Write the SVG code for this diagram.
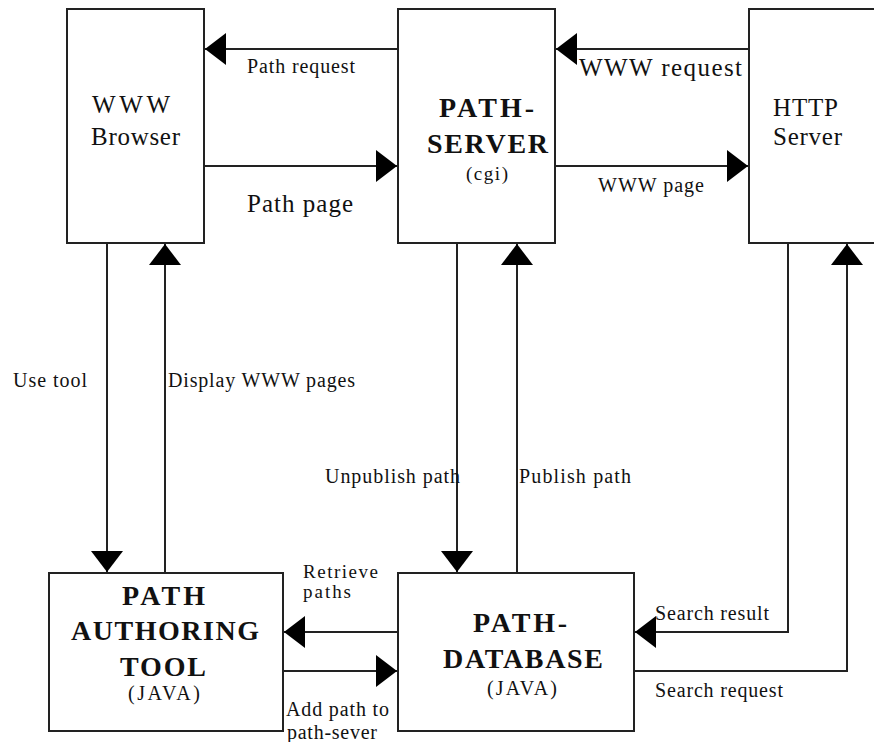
<svg xmlns="http://www.w3.org/2000/svg" width="874" height="742" viewBox="0 0 874 742">
<style>
  .box { fill: #fff; stroke: #222; stroke-width: 2; }
  .ln { fill: none; stroke: #222; stroke-width: 2; marker-end: url(#ah); }
  text { font-family: "Liberation Serif", "Times New Roman", serif; fill: #111; }
  .lbl { font-size: 20px; }
  .nd { font-size: 25px; }
  .b { font-size: 28px; font-weight: bold; }
  .sm { font-size: 19px; }
  .tight { font-size: 19px; }
</style>
<defs>
  <marker id="ah" markerUnits="userSpaceOnUse" viewBox="0 -16 21 32" markerWidth="21" markerHeight="32" refX="21" refY="0" orient="auto">
    <path d="M0,-16 L21,0 L0,16 z" fill="#000"/>
  </marker>
</defs>
<rect width="874" height="742" fill="#fff"/>

<g id="browser">
  <rect class="box" x="67" y="9" width="137" height="234"/>
  <text class="nd" x="92" y="113" textLength="78">WWW</text>
  <text class="nd" x="91" y="145" textLength="89">Browser</text>
</g>
<g id="path-server">
  <rect class="box" x="398" y="9" width="157" height="234"/>
  <text class="b" x="439" y="117" textLength="95">PATH-</text>
  <text class="b" x="427" y="153" textLength="121">SERVER</text>
  <text class="sm" x="466" y="180" textLength="42">(cgi)</text>
</g>
<g id="http-server">
  <rect class="box" x="749" y="9" width="140" height="234"/>
  <text class="nd" x="773" y="116" textLength="65">HTTP</text>
  <text class="nd" x="773" y="145" textLength="69">Server</text>
</g>
<g id="authoring-tool">
  <rect class="box" x="49" y="573" width="234" height="158"/>
  <text class="b" x="122" y="605" textLength="83">PATH</text>
  <text class="b" x="71" y="640" textLength="188">AUTHORING</text>
  <text class="b" x="120" y="676" textLength="86">TOOL</text>
  <text class="lbl" x="128" y="700" textLength="72">(JAVA)</text>
</g>
<g id="path-database">
  <rect class="box" x="398" y="573" width="236" height="158"/>
  <text class="b" x="473" y="632" textLength="94">PATH-</text>
  <text class="b" x="443" y="668" textLength="160">DATABASE</text>
  <text class="lbl" x="487" y="695" textLength="70">(JAVA)</text>
</g>

<g id="connectors">
  <line class="ln" x1="398" y1="49" x2="205" y2="49"/>
  <line class="ln" x1="204" y1="166" x2="397" y2="166"/>
  <line class="ln" x1="749" y1="49" x2="556" y2="49"/>
  <line class="ln" x1="555" y1="166" x2="748" y2="166"/>
  <line class="ln" x1="107" y1="243" x2="107" y2="572"/>
  <line class="ln" x1="165" y1="573" x2="165" y2="244"/>
  <line class="ln" x1="457" y1="243" x2="457" y2="572"/>
  <line class="ln" x1="517" y1="573" x2="517" y2="244"/>
  <line class="ln" x1="398" y1="632" x2="284" y2="632"/>
  <line class="ln" x1="283" y1="671" x2="397" y2="671"/>
  <polyline class="ln" points="788,243 788,632 635,632"/>
  <polyline class="ln" points="634,671 847,671 847,244"/>
</g>

<g id="labels">
  <text class="lbl" x="247" y="73" textLength="108">Path request</text>
  <text class="nd" x="247" y="212" textLength="106">Path page</text>
  <text class="nd" x="579" y="76" textLength="163">WWW request</text>
  <text class="lbl" x="598" y="192" textLength="106">WWW page</text>
  <text class="lbl" x="13" y="387" textLength="74">Use tool</text>
  <text class="lbl" x="168" y="387" textLength="187">Display WWW pages</text>
  <text class="lbl" x="325" y="483" textLength="135">Unpublish path</text>
  <text class="lbl" x="519" y="483" textLength="112">Publish path</text>
  <text class="tight" x="303" y="578" textLength="75">Retrieve</text>
  <text class="tight" x="303" y="598" textLength="48">paths</text>
  <text class="lbl" x="286" y="716" textLength="103">Add path to</text>
  <text class="lbl" x="287" y="739" textLength="90">path-sever</text>
  <text class="lbl" x="655" y="620" textLength="114">Search result</text>
  <text class="lbl" x="655" y="697" textLength="128">Search request</text>
</g>
</svg>
